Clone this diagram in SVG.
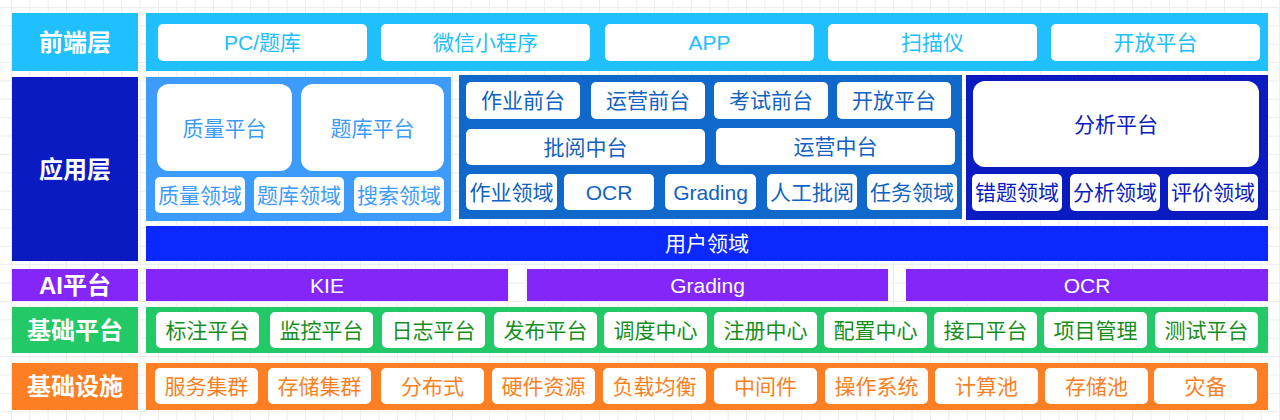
<svg xmlns="http://www.w3.org/2000/svg" width="1280" height="420" viewBox="0 0 1280 420">
<defs>
<pattern id="grid" x="10.9" y="6.9" width="18.38" height="18.38" patternUnits="userSpaceOnUse">
<path d="M0 0.5 H18.38 M0.5 0 V18.38" fill="none" stroke="#ececec" stroke-width="1"/>
</pattern>
<style>
text{font-family:"Liberation Sans","Noto Sans CJK SC",sans-serif;text-anchor:middle;dominant-baseline:central}
.lbl{font-size:24px;font-weight:bold;fill:#fff}
.it{font-size:21px}
.w{fill:#fff}
.wt{fill:#fff}
.fe{fill:#20BFFD}
.lp{fill:#3C9BFB}
.mp{fill:#0F68CA}
.dp{fill:#0A1BC2}
.ub{fill:#0A28FF}
.ai{fill:#8426FA}
.gr{fill:#22C966}
.or{fill:#FD7F24}
.tfe{fill:#20BFFD}
.tlp{fill:#3C9BFB}
.tmp{fill:#0F62C4}
.tdp{fill:#0A1BC2}
.tgr{fill:#168E1E}
.tor{fill:#FD7F24}
</style>
</defs>
<rect width="1280" height="420" fill="#fff"/>
<rect width="1280" height="420" fill="url(#grid)"/>

<g id="frontend">
<rect class="fe" x="12" y="13" width="126" height="58"/>
<text class="lbl" x="75" y="42">前端层</text>
<rect class="fe" x="146" y="13" width="1122" height="58"/>
<g id="fe-pc"><rect class="w" x="158" y="24" width="209" height="37" rx="5"/><text class="it tfe" x="262.5" y="42.5">PC/题库</text></g>
<g id="fe-wx"><rect class="w" x="381" y="24" width="209" height="37" rx="5"/><text class="it tfe" x="485.5" y="42.5">微信小程序</text></g>
<g id="fe-app"><rect class="w" x="605" y="24" width="209" height="37" rx="5"/><text class="it tfe" x="709.5" y="42.5">APP</text></g>
<g id="fe-scan"><rect class="w" x="828" y="24" width="209" height="37" rx="5"/><text class="it tfe" x="932.5" y="42.5">扫描仪</text></g>
<g id="fe-open"><rect class="w" x="1051" y="24" width="209" height="37" rx="5"/><text class="it tfe" x="1155.5" y="42.5">开放平台</text></g>
</g>

<g id="app">
<rect class="dp" x="12" y="77" width="126" height="184"/>
<text class="lbl" x="75" y="169">应用层</text>
</g>

<g id="app-left">
<rect class="lp" x="146" y="77" width="305" height="144"/>
<g id="quality-platform"><rect class="w" x="157" y="84" width="135" height="87" rx="12"/><text class="it tlp" x="224.5" y="128">质量平台</text></g>
<g id="bank-platform"><rect class="w" x="301" y="84" width="143" height="87" rx="12"/><text class="it tlp" x="372.5" y="128">题库平台</text></g>
<g id="quality-domain"><rect class="w" x="155" y="177" width="90" height="36" rx="5"/><text class="it tlp" x="200" y="195">质量领域</text></g>
<g id="bank-domain"><rect class="w" x="254" y="177" width="90" height="36" rx="5"/><text class="it tlp" x="299" y="195">题库领域</text></g>
<g id="search-domain"><rect class="w" x="354" y="177" width="90" height="36" rx="5"/><text class="it tlp" x="399" y="195">搜索领域</text></g>
</g>

<g id="app-mid">
<rect class="mp" x="459" y="75" width="503" height="144"/>
<g id="hw-front"><rect class="w" x="466" y="82" width="114" height="37" rx="5"/><text class="it tmp" x="523" y="100.5">作业前台</text></g>
<g id="op-front"><rect class="w" x="591" y="82" width="114" height="37" rx="5"/><text class="it tmp" x="648" y="100.5">运营前台</text></g>
<g id="exam-front"><rect class="w" x="714" y="82" width="114" height="37" rx="5"/><text class="it tmp" x="771" y="100.5">考试前台</text></g>
<g id="open-front"><rect class="w" x="837" y="82" width="114" height="37" rx="5"/><text class="it tmp" x="894" y="100.5">开放平台</text></g>
<g id="mark-mid"><rect class="w" x="466" y="129" width="239" height="36" rx="5"/><text class="it tmp" x="585.5" y="147">批阅中台</text></g>
<g id="op-mid"><rect class="w" x="716" y="128" width="239" height="37" rx="5"/><text class="it tmp" x="835.5" y="146.5">运营中台</text></g>
<g id="hw-domain"><rect class="w" x="466" y="174" width="91" height="36" rx="5"/><text class="it tmp" x="511.5" y="192">作业领域</text></g>
<g id="ocr-domain"><rect class="w" x="564" y="174" width="90" height="36" rx="5"/><text class="it tmp" x="609" y="192">OCR</text></g>
<g id="grading-domain"><rect class="w" x="665" y="174" width="91" height="36" rx="5"/><text class="it tmp" x="710.5" y="192">Grading</text></g>
<g id="manual-domain"><rect class="w" x="767" y="174" width="90" height="36" rx="5"/><text class="it tmp" x="812" y="192">人工批阅</text></g>
<g id="task-domain"><rect class="w" x="867" y="174" width="90" height="36" rx="5"/><text class="it tmp" x="912" y="192">任务领域</text></g>
</g>

<g id="app-right">
<rect class="dp" x="966" y="75" width="302" height="145"/>
<g id="analysis-platform"><rect class="w" x="973" y="81" width="286" height="86" rx="12"/><text class="it tdp" x="1116" y="124">分析平台</text></g>
<g id="wrong-domain"><rect class="w" x="972" y="174" width="90" height="37" rx="5"/><text class="it tdp" x="1017" y="192.5">错题领域</text></g>
<g id="analysis-domain"><rect class="w" x="1070" y="174" width="90" height="37" rx="5"/><text class="it tdp" x="1115" y="192.5">分析领域</text></g>
<g id="eval-domain"><rect class="w" x="1168" y="174" width="90" height="37" rx="5"/><text class="it tdp" x="1213" y="192.5">评价领域</text></g>
</g>

<g id="user-domain">
<rect class="ub" x="146" y="226" width="1122" height="35"/>
<text class="it wt" x="707" y="243.5">用户领域</text>
</g>

<g id="ai">
<rect class="ai" x="12" y="269" width="126" height="32"/>
<text class="lbl" x="75" y="285">AI平台</text>
<g id="ai-kie"><rect class="ai" x="146" y="269" width="362" height="32"/><text class="it wt" x="327" y="285">KIE</text></g>
<g id="ai-grading"><rect class="ai" x="527" y="269" width="361" height="32"/><text class="it wt" x="707.5" y="285">Grading</text></g>
<g id="ai-ocr"><rect class="ai" x="906" y="269" width="362" height="32"/><text class="it wt" x="1087" y="285">OCR</text></g>
</g>

<g id="base-platform">
<rect class="gr" x="12" y="307" width="126" height="46"/>
<text class="lbl" x="75" y="330">基础平台</text>
<rect class="gr" x="146" y="307" width="1122" height="46"/>
<g id="bp-1"><rect class="w" x="156" y="312" width="103" height="36" rx="5"/><text class="it tgr" x="207.5" y="330">标注平台</text></g>
<g id="bp-2"><rect class="w" x="270" y="312" width="103" height="36" rx="5"/><text class="it tgr" x="321.5" y="330">监控平台</text></g>
<g id="bp-3"><rect class="w" x="382" y="312" width="103" height="36" rx="5"/><text class="it tgr" x="433.5" y="330">日志平台</text></g>
<g id="bp-4"><rect class="w" x="494" y="312" width="103" height="36" rx="5"/><text class="it tgr" x="545.5" y="330">发布平台</text></g>
<g id="bp-5"><rect class="w" x="604" y="312" width="103" height="36" rx="5"/><text class="it tgr" x="655.5" y="330">调度中心</text></g>
<g id="bp-6"><rect class="w" x="714" y="312" width="103" height="36" rx="5"/><text class="it tgr" x="765.5" y="330">注册中心</text></g>
<g id="bp-7"><rect class="w" x="824" y="312" width="103" height="36" rx="5"/><text class="it tgr" x="875.5" y="330">配置中心</text></g>
<g id="bp-8"><rect class="w" x="934" y="312" width="103" height="36" rx="5"/><text class="it tgr" x="985.5" y="330">接口平台</text></g>
<g id="bp-9"><rect class="w" x="1044" y="312" width="103" height="36" rx="5"/><text class="it tgr" x="1095.5" y="330">项目管理</text></g>
<g id="bp-10"><rect class="w" x="1155" y="312" width="103" height="36" rx="5"/><text class="it tgr" x="1206.5" y="330">测试平台</text></g>
</g>

<g id="infra">
<rect class="or" x="12" y="363" width="126" height="47"/>
<text class="lbl" x="75" y="386">基础设施</text>
<rect class="or" x="146" y="363" width="1122" height="47"/>
<g id="in-1"><rect class="w" x="155" y="368" width="103" height="36" rx="5"/><text class="it tor" x="206.5" y="386">服务集群</text></g>
<g id="in-2"><rect class="w" x="268" y="368" width="103" height="36" rx="5"/><text class="it tor" x="319.5" y="386">存储集群</text></g>
<g id="in-3"><rect class="w" x="381" y="368" width="103" height="36" rx="5"/><text class="it tor" x="432.5" y="386">分布式</text></g>
<g id="in-4"><rect class="w" x="492" y="368" width="103" height="36" rx="5"/><text class="it tor" x="543.5" y="386">硬件资源</text></g>
<g id="in-5"><rect class="w" x="603" y="368" width="103" height="36" rx="5"/><text class="it tor" x="654.5" y="386">负载均衡</text></g>
<g id="in-6"><rect class="w" x="714" y="368" width="103" height="36" rx="5"/><text class="it tor" x="765.5" y="386">中间件</text></g>
<g id="in-7"><rect class="w" x="825" y="368" width="103" height="36" rx="5"/><text class="it tor" x="876.5" y="386">操作系统</text></g>
<g id="in-8"><rect class="w" x="935" y="368" width="103" height="36" rx="5"/><text class="it tor" x="986.5" y="386">计算池</text></g>
<g id="in-9"><rect class="w" x="1045" y="368" width="103" height="36" rx="5"/><text class="it tor" x="1096.5" y="386">存储池</text></g>
<g id="in-10"><rect class="w" x="1154" y="368" width="103" height="36" rx="5"/><text class="it tor" x="1205.5" y="386">灾备</text></g>
</g>

<g id="connectors"></g>
</svg>
